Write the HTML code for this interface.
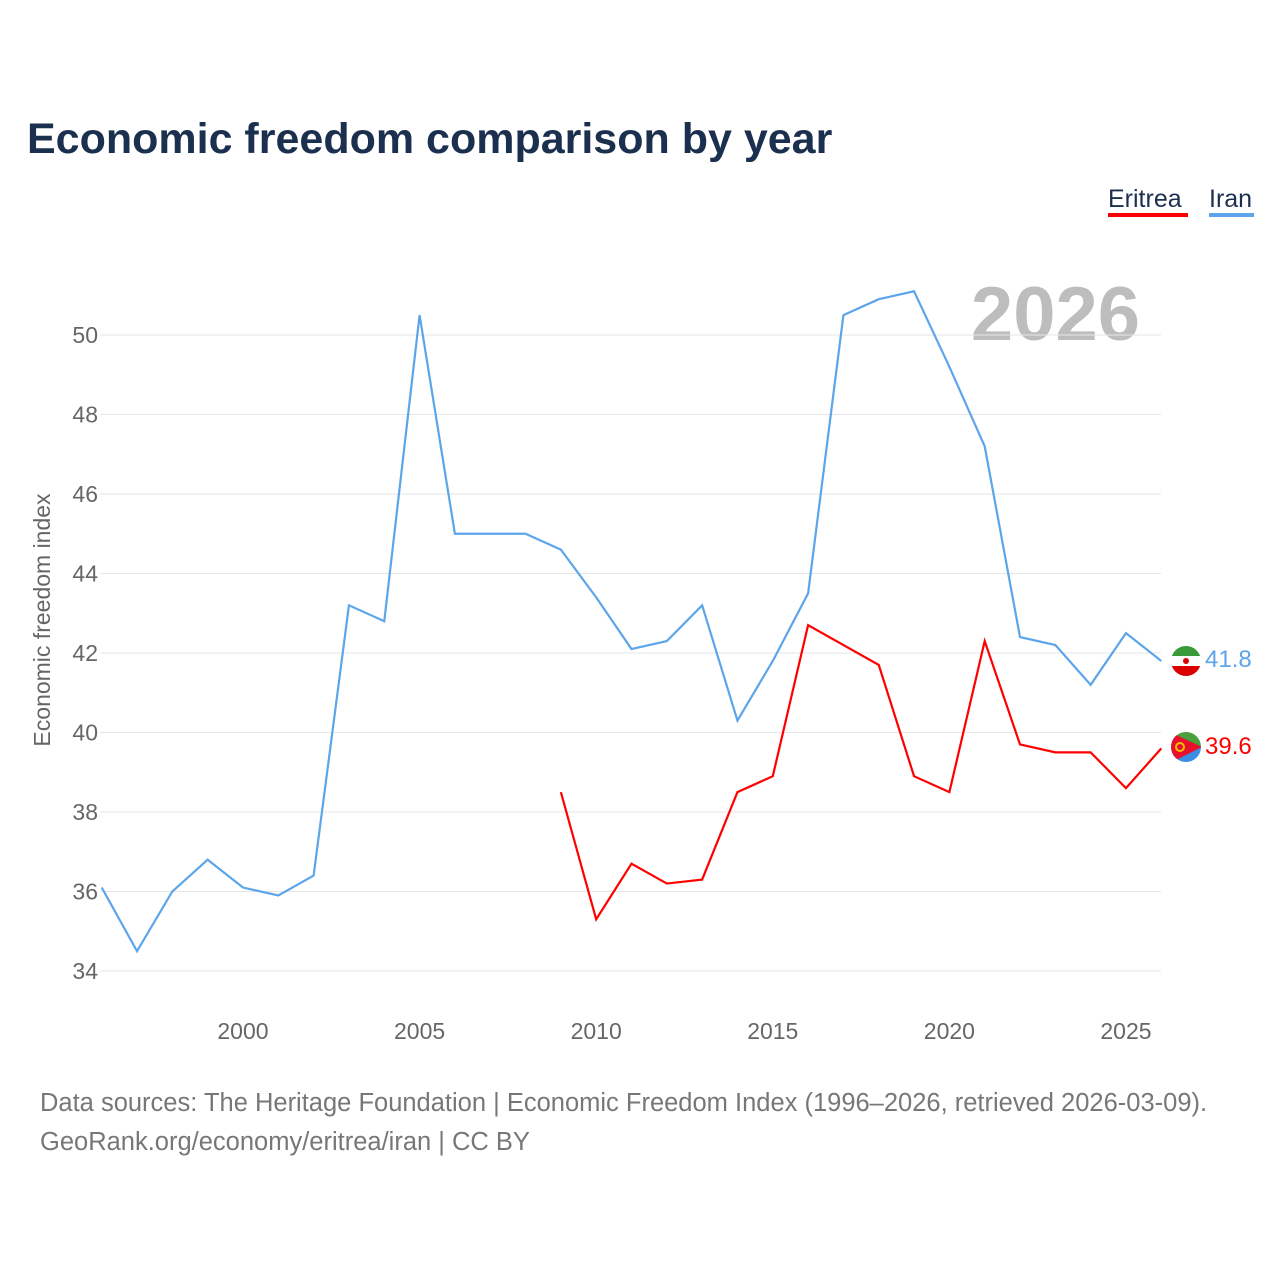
<!DOCTYPE html>
<html><head><meta charset="utf-8"><style>
body{margin:0;background:#fff;font-family:"Liberation Sans",sans-serif}
svg text{font-family:"Liberation Sans",sans-serif}
</style></head><body>
<svg id="chart" width="1280" height="1280" viewBox="0 0 1280 1280">
<text x="27" y="153" font-size="43" font-weight="bold" fill="#1b2f4e">Economic freedom comparison by year</text>
<g>
<text x="1108" y="207" font-size="25" fill="#1b2f4e">Eritrea</text>
<rect x="1108" y="213" width="80" height="4" fill="#ff0000"/>
<text x="1209" y="207" font-size="25" fill="#1b2f4e">Iran</text>
<rect x="1209" y="213" width="45" height="4" fill="#5ca5ea"/>
</g>
<text x="1140" y="340" text-anchor="end" font-size="76" font-weight="bold" fill="#bdbdbd">2026</text>
<g id="grid"></g>
<g id="yticks"></g>
<g id="xticks"></g>
<text transform="translate(50,620) rotate(-90)" text-anchor="middle" font-size="23" fill="#666">Economic freedom index</text>
<g id="series"></g>
<g>
<clipPath id="ci"><circle cx="1186" cy="661" r="15"/></clipPath>
<g clip-path="url(#ci)"><rect x="1170" y="646" width="32" height="10" fill="#3a9a3a"/><rect x="1170" y="656" width="32" height="10" fill="#fff"/><rect x="1170" y="666" width="32" height="11" fill="#da0000"/><circle cx="1186" cy="661" r="3" fill="#da0000"/></g>
</g>
<g>
<clipPath id="ce"><circle cx="1186" cy="747" r="15"/></clipPath>
<g clip-path="url(#ce)"><rect x="1170" y="732" width="32" height="15" fill="#4aa03a"/><rect x="1170" y="747" width="32" height="16" fill="#3a8ee6"/><polygon points="1170,732 1202,747 1170,763" fill="#e8112d"/><circle cx="1180" cy="747" r="4" fill="none" stroke="#f0c000" stroke-width="2"/></g>
</g>
<text x="1205" y="667" font-size="24" fill="#5ca5ea">41.8</text>
<text x="1205" y="754" font-size="24" fill="#ff0000">39.6</text>
<text x="40" y="1111" font-size="25.5" fill="#777">Data sources: The Heritage Foundation | Economic Freedom Index (1996–2026, retrieved 2026-03-09).</text>
<text x="40" y="1150" font-size="25.5" fill="#777">GeoRank.org/economy/eritrea/iran | CC BY</text>
</svg>
<script>
const years=[1996,1997,1998,1999,2000,2001,2002,2003,2004,2005,2006,2007,2008,2009,2010,2011,2012,2013,2014,2015,2016,2017,2018,2019,2020,2021,2022,2023,2024,2025,2026];
const iran=[36.1,34.5,36.0,36.8,36.1,35.9,36.4,43.2,42.8,50.5,45.0,45.0,45.0,44.6,43.4,42.1,42.3,43.2,40.3,41.8,43.5,50.5,50.9,51.1,49.2,47.2,42.4,42.2,41.2,42.5,41.8];
const eritreaYears=[2009,2010,2011,2012,2013,2014,2015,2016,2017,2018,2019,2020,2021,2022,2023,2024,2025,2026];
const eritrea=[38.5,35.3,36.7,36.2,36.3,38.5,38.9,42.7,42.2,41.7,38.9,38.5,42.3,39.7,39.5,39.5,38.6,39.6];
const yTicks=[34,36,38,40,42,44,46,48,50];
const xTicks=[2000,2005,2010,2015,2020,2025];
const NS="http://www.w3.org/2000/svg";
const x=v=>101.7+(v-1996)*35.32;
const y=v=>971-(v-34)*39.75;
function mk(t,a,p){const e=document.createElementNS(NS,t);for(const k in a)e.setAttribute(k,a[k]);p.appendChild(e);return e;}
const grid=document.getElementById('grid'),yt=document.getElementById('yticks'),xt=document.getElementById('xticks'),ser=document.getElementById('series');
yTicks.forEach(v=>{
const l=mk('line',{x1:100,x2:1161,y1:y(v),y2:y(v),stroke:'#e6e6e6','stroke-width':1},grid);


const t=mk('text',{x:98,y:y(v)+8,'text-anchor':'end','font-size':23,fill:'#666'},yt);
t.textContent=v;


});
xTicks.forEach(v=>{
const t=mk('text',{x:x(v),y:1039,'text-anchor':'middle','font-size':23,fill:'#666'},xt);
t.textContent=v;


});
const pi=mk('polyline',{points:years.map((yr,i)=>x(yr)+','+y(iran[i])).join(' '),fill:'none',stroke:'#5ca5ea','stroke-width':2.2},ser);


const pe=mk('polyline',{points:eritreaYears.map((yr,i)=>x(yr)+','+y(eritrea[i])).join(' '),fill:'none',stroke:'#ff0000','stroke-width':2.2},ser);


</script>
</body></html>
